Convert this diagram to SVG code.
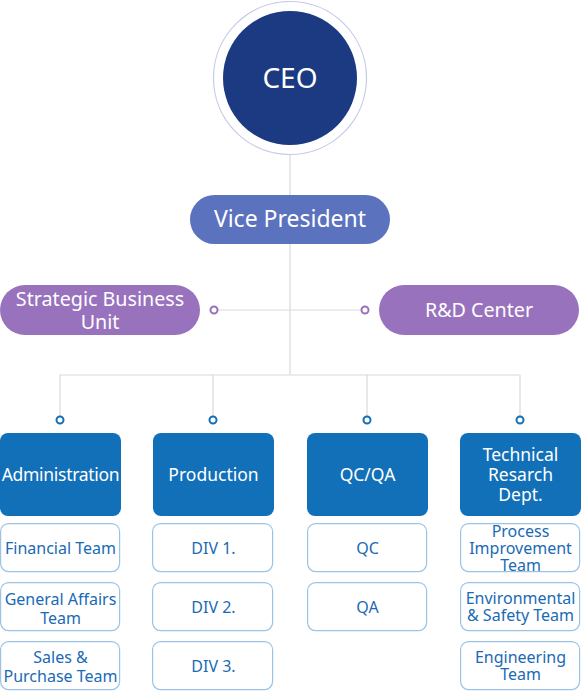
<svg xmlns="http://www.w3.org/2000/svg" width="581" height="691" viewBox="0 0 581 691">
<style>
text{font-family:"Noto Sans","Open Sans","Liberation Sans",sans-serif;text-anchor:middle}
.ln{stroke:#d9d9d9;stroke-width:1.2;fill:none}
.pd{fill:#fff;stroke:#9872bd;stroke-width:2}
.bd{fill:#fff;stroke:#1270b8;stroke-width:2}
.dept{fill:#1270b8}
.dt{fill:#fff;font-size:17.5px}
.sub{fill:#fff;stroke:#9cc3e5;stroke-width:1.2}
.st{fill:#1a6ab5;font-size:16px}
.pill{fill:#9872bd}
.pt{fill:#fff;font-size:19.7px}
</style>
<g id="connectors">
<line class="ln" x1="290" y1="155" x2="290" y2="196"/>
<line class="ln" x1="290" y1="244" x2="290" y2="375"/>
<line class="ln" x1="218" y1="310" x2="361" y2="310"/>
<polyline class="ln" points="60,416 60,375 520,375 520,416"/>
<line class="ln" x1="213" y1="375" x2="213" y2="416"/>
<line class="ln" x1="367" y1="375" x2="367" y2="416"/>
<circle class="pd" cx="214" cy="310" r="3.5"/>
<circle class="pd" cx="365" cy="310" r="3.5"/>
<circle class="bd" cx="60" cy="420" r="3.5"/>
<circle class="bd" cx="213" cy="420" r="3.5"/>
<circle class="bd" cx="367" cy="420" r="3.5"/>
<circle class="bd" cx="520" cy="420" r="3.5"/>
</g>
<g id="ceo">
<circle cx="290" cy="78" r="76.5" fill="#fff" stroke="#c3cbe6" stroke-width="1.2"/>
<circle cx="290" cy="78" r="67" fill="#1b3a82"/>
<text x="290" y="88" fill="#fff" font-size="28">CEO</text>
</g>
<g id="vp">
<rect x="190" y="195" width="200" height="49" rx="24.5" fill="#5b72be"/>
<text x="290" y="227" fill="#fff" font-size="23">Vice President</text>
</g>
<g id="sbu">
<rect class="pill" x="0" y="285" width="200" height="50" rx="25"/>
<text class="pt" x="100" y="306">Strategic Business</text>
<text class="pt" x="100" y="329">Unit</text>
</g>
<g id="rnd">
<rect class="pill" x="379" y="285" width="200" height="50" rx="25"/>
<text class="pt" x="479" y="317">R&amp;D Center</text>
</g>
<g id="administration">
<rect class="dept" x="0" y="433" width="121" height="83" rx="8"/>
<text class="dt" x="60.5" y="481" font-size="16.5" letter-spacing="-0.3">Administration</text>
</g>
<g id="production">
<rect class="dept" x="153" y="433" width="121" height="83" rx="8"/>
<text class="dt" x="213.5" y="481">Production</text>
</g>
<g id="qcqa">
<rect class="dept" x="307" y="433" width="121" height="83" rx="8"/>
<text class="dt" x="367.5" y="481">QC/QA</text>
</g>
<g id="technical">
<rect class="dept" x="460" y="433" width="121" height="83" rx="8"/>
<text class="dt" x="520.5" y="461">Technical</text>
<text class="dt" x="520.5" y="481">Resarch</text>
<text class="dt" x="520.5" y="501">Dept.</text>
</g>
<g id="financial">
<rect class="sub" x="0.6" y="523.6" width="119" height="48" rx="8"/>
<text class="st" x="60.5" y="554">Financial Team</text>
</g>
<g id="general">
<rect class="sub" x="0.6" y="582.6" width="119" height="48" rx="8"/>
<text class="st" x="60.5" y="605">General Affairs</text>
<text class="st" x="60.5" y="624">Team</text>
</g>
<g id="sales">
<rect class="sub" x="0.6" y="641.6" width="119" height="48" rx="8"/>
<text class="st" x="60.5" y="663">Sales &amp;</text>
<text class="st" x="60.5" y="682">Purchase Team</text>
</g>
<g id="div1">
<rect class="sub" x="152.6" y="523.6" width="120" height="48" rx="8"/>
<text class="st" x="213.5" y="554">DIV 1.</text>
</g>
<g id="div2">
<rect class="sub" x="152.6" y="582.6" width="120" height="48" rx="8"/>
<text class="st" x="213.5" y="613">DIV 2.</text>
</g>
<g id="div3">
<rect class="sub" x="152.6" y="641.6" width="120" height="48" rx="8"/>
<text class="st" x="213.5" y="672">DIV 3.</text>
</g>
<g id="qc">
<rect class="sub" x="307.6" y="523.6" width="119" height="48" rx="8"/>
<text class="st" x="367.5" y="554">QC</text>
</g>
<g id="qa">
<rect class="sub" x="307.6" y="582.6" width="119" height="48" rx="8"/>
<text class="st" x="367.5" y="613">QA</text>
</g>
<g id="process">
<rect class="sub" x="460.6" y="523.6" width="119" height="48" rx="8"/>
<text class="st" x="520.5" y="537">Process</text>
<text class="st" x="520.5" y="554">Improvement</text>
<text class="st" x="520.5" y="571">Team</text>
</g>
<g id="environmental">
<rect class="sub" x="460.6" y="582.6" width="119" height="48" rx="8"/>
<text class="st" x="520.5" y="604">Environmental</text>
<text class="st" x="520.5" y="621">&amp; Safety Team</text>
</g>
<g id="engineering">
<rect class="sub" x="460.6" y="641.6" width="119" height="48" rx="8"/>
<text class="st" x="520.5" y="663">Engineering</text>
<text class="st" x="520.5" y="680">Team</text>
</g>
</svg>
